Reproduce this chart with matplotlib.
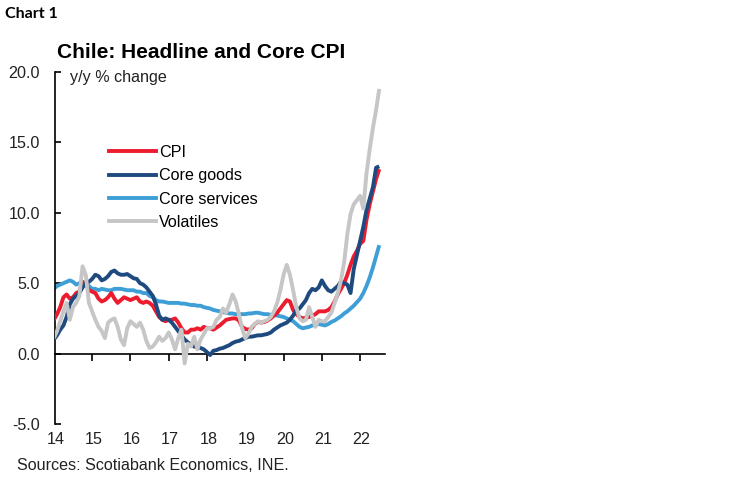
import numpy as np
import matplotlib
matplotlib.use("Agg")
import matplotlib.pyplot as plt
from matplotlib.lines import Line2D

plt.rcParams['font.family'] = ['Liberation Sans', 'DejaVu Sans']
plt.rcParams['axes.unicode_minus'] = False

start_year = 2014
series_names = ["CPI", "Core goods", "Core services", "Volatiles"]
colors = ["#EC1C2E", "#1F4A80", "#3E9FD6", "#C6C6C6"]

cpi = [2.4, 2.8, 3.3, 4.0, 4.2, 3.9, 4.0, 4.3, 4.4, 5.1, 5.0, 4.5,
       4.4, 4.3, 3.9, 3.7, 3.8, 4.0, 4.3, 3.9, 3.6, 3.8, 4.0, 3.9,
       3.8, 3.9, 4.0, 3.7, 3.6, 3.7, 3.6, 3.4, 3.0, 2.6, 2.4, 2.3,
       2.4, 2.4, 2.5, 2.2, 1.8, 1.5, 1.5, 1.7, 1.7, 1.8, 1.7, 1.9,
       1.8, 1.8, 1.7, 1.85, 2.0, 2.2, 2.4, 2.45, 2.5, 2.5, 2.35, 1.9,
       1.75, 1.7, 1.8, 2.1, 2.25, 2.2, 2.25, 2.35, 2.5, 2.7, 2.9, 3.2,
       3.5, 3.8, 3.7, 3.1, 2.8, 2.6, 2.5, 2.55, 2.6, 2.7, 2.8, 3.0,
       3.0, 3.0, 3.1, 3.3, 3.7, 4.2, 4.6, 5.0, 5.6, 6.3, 6.9, 7.3,
       7.8, 8.0, 9.5, 10.6, 11.5, 12.4, 13.1]

core_goods = [1.0, 1.3, 1.7, 2.0, 2.6, 3.5, 3.9, 4.1, 4.3, 4.7, 5.0, 5.1,
              5.3, 5.6, 5.5, 5.2, 5.3, 5.5, 5.8, 5.9, 5.7, 5.6, 5.6, 5.65,
              5.5, 5.35, 5.3, 5.0, 4.9, 4.7, 4.4, 4.1, 3.5, 2.7, 2.4, 2.5,
              2.4, 2.2, 1.9, 1.6, 1.3, 1.0, 0.8, 0.6, 0.5, 0.45, 0.4, 0.3,
              0.1, -0.1, 0.2, 0.25, 0.35, 0.4, 0.5, 0.6, 0.75, 0.85, 0.9, 1.0,
              1.1, 1.2, 1.2, 1.25, 1.3, 1.3, 1.35, 1.4, 1.5, 1.7, 1.85, 2.0,
              2.1, 2.2, 2.4, 2.7, 3.1, 3.2, 3.5, 3.8, 4.3, 4.6, 4.5, 4.7,
              5.2, 4.8, 4.5, 4.4, 4.6, 4.8, 5.1, 5.0, 4.9, 4.3, 6.0, 7.0,
              8.0, 9.0, 10.2, 11.0, 11.8, 13.2, 13.3]

core_services = [4.6, 4.8, 4.9, 5.0, 5.1, 5.2, 5.1, 4.9, 5.0, 5.0, 4.9, 4.8,
                 4.6, 4.6, 4.5, 4.6, 4.55, 4.5, 4.5, 4.6, 4.6, 4.6, 4.55, 4.5,
                 4.5, 4.5, 4.4, 4.4, 4.3, 4.3, 4.1, 4.0, 3.8, 3.7, 3.7, 3.65,
                 3.6, 3.6, 3.6, 3.6, 3.55, 3.55, 3.5, 3.45, 3.45, 3.4, 3.4, 3.3,
                 3.25, 3.2, 3.1, 3.05, 3.0, 2.95, 2.9, 2.85, 2.85, 2.8, 2.8, 2.8,
                 2.8, 2.85, 2.85, 2.9, 2.9, 2.85, 2.8, 2.8, 2.75, 2.75, 2.7, 2.65,
                 2.6, 2.5, 2.4, 2.3, 2.1, 1.9, 1.8, 1.85, 1.9, 2.0, 2.05, 2.1,
                 2.05, 2.0, 2.1, 2.25, 2.35, 2.5, 2.65, 2.85, 3.0, 3.2, 3.4, 3.65,
                 3.9, 4.3, 4.8, 5.4, 6.1, 6.9, 7.7]

volatiles = [1.1, 1.6, 2.3, 3.0, 3.6, 2.4, 3.3, 3.6, 4.1, 6.2, 5.6, 3.6,
             3.0, 2.4, 1.9, 1.6, 1.1, 2.2, 2.4, 2.5, 1.9, 1.0, 0.6, 1.8,
             2.3, 2.1, 1.9, 2.2, 1.7, 0.9, 0.4, 0.5, 0.8, 1.2, 0.9, 1.1,
             1.5, 1.0, 0.3, 1.1, 1.7, -0.7, 0.7, 0.5, 1.2, 0.3, 1.0, 1.4,
             1.8, 1.8, 1.9, 2.4, 2.6, 3.2, 2.9, 3.5, 4.2, 3.7, 2.8, 1.8,
             1.1, 1.4, 1.9, 2.1, 2.3, 2.2, 2.3, 2.4, 2.6, 3.0, 3.6, 4.5,
             5.6, 6.3, 5.6, 4.5, 3.3, 2.5, 2.3, 2.4, 3.3, 2.6, 1.9, 2.4,
             2.3, 2.3, 2.6, 2.9, 3.6, 4.3, 5.2, 6.5, 8.5, 9.9, 10.6, 10.9,
             11.2, 10.3, 12.8, 14.5, 16.0, 17.3, 18.8]

year_labels = ["14", "15", "16", "17", "18", "19", "20", "21", "22"]
y_ticks = [-5.0, 0.0, 5.0, 10.0, 15.0, 20.0]

FS = 11.6
fig = plt.figure(figsize=(7.5, 4.83), dpi=100)
ax = fig.add_axes([55 / 750, 1 - 424 / 483, 330 / 750, 352 / 483])

x = start_year + np.arange(len(cpi)) / 12.0
data = [cpi, core_goods, core_services, volatiles]
zorders = [3, 4, 2, 5]
handles = []
for vals, name, col, z in zip(data, series_names, colors, zorders):
    ax.plot(x, vals, color=col, lw=2.8, zorder=z, solid_capstyle='butt')
    handles.append(Line2D([], [], color=col, lw=2.8, label=name))

ax.set_xlim(2014.03, 2022.65)
ax.set_ylim(-5, 20)

for s in ['top', 'right']:
    ax.spines[s].set_visible(False)
ax.spines['bottom'].set_position(('data', 0))
ax.spines['left'].set_linewidth(1.2)
ax.spines['bottom'].set_linewidth(1.2)

ax.set_yticks(y_ticks)
ax.set_yticklabels([f"{v:.1f}" for v in y_ticks], fontsize=FS, color='#222222')
ax.tick_params(axis='y', direction='in', length=4, width=1.2, pad=10.8)

years = [2014 + i for i in range(len(year_labels))]
ax.set_xticks(years[1:])
ax.tick_params(axis='x', direction='out', length=5, width=1.2, labelbottom=False)
for yr, lab in zip(years, year_labels):
    ax.text(yr + 0.04, -0.045, lab, transform=ax.get_xaxis_transform(),
            ha='center', va='center', fontsize=FS, color='#222222')

ax.text(15 / 330, 19.6, "y/y % change", transform=ax.get_yaxis_transform(),
        ha='left', va='center', fontsize=FS, color='#222222')

leg = fig.legend(handles=handles, loc='upper left',
                 bbox_to_anchor=(109 / 750, 1 - 145 / 483),
                 frameon=False, fontsize=FS, handlelength=2.92,
                 handletextpad=0.2, labelspacing=0.52, borderpad=0,
                 borderaxespad=0)

fig.text(57 / 750, 1 - 53 / 483, "Chile: Headline and Core CPI",
         fontsize=15, fontweight='bold', ha='left', va='center', color='black')
fig.text(5 / 750, 1 - 14 / 483, "Chart 1", family=['Lato', 'DejaVu Sans'],
         fontsize=11.5, fontweight='bold', ha='left', va='center', color='black')
fig.text(17 / 750, 1 - 465 / 483, "Sources: Scotiabank Economics, INE.",
         fontsize=FS, ha='left', va='center', color='#222222')

fig.savefig("out.png", dpi=100)
